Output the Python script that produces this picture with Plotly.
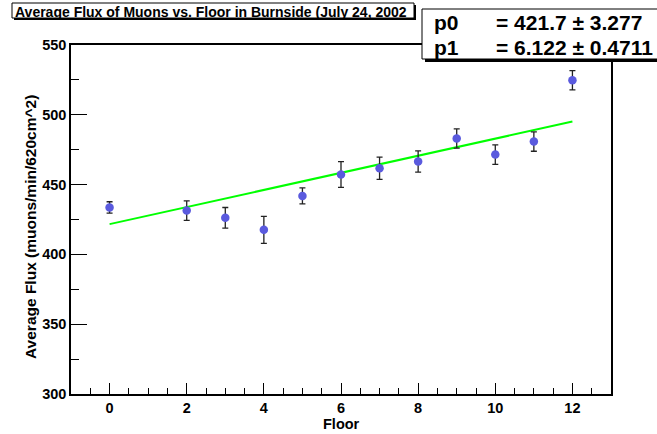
import plotly.graph_objects as go

floors = [0, 2, 3, 4, 5, 6, 7, 8, 9, 10, 11, 12]
flux = [433.6, 431.4, 426.2, 417.6, 441.9, 457.2, 461.7, 466.5, 483.0, 471.5, 480.8, 524.7]
flux_err = [4.1, 7.0, 7.4, 9.7, 5.7, 9.2, 8.0, 7.6, 6.9, 7.0, 6.9, 6.9]
p0, p0_err = 421.7, 3.277
p1, p1_err = 6.122, 0.4711
fit_x = [0, 12]
fit_y = [p0 + p1 * x for x in fit_x]

W, H = 657, 434
L, R, T, B = 71, 611, 45, 394

def px(x):
    return (x - L) / (R - L)

def py(y):
    return (B - y) / (B - T)

FONT = "Liberation Sans, Arial, Helvetica, sans-serif"

fig = go.Figure()
fig.add_trace(go.Scatter(
    x=fit_x, y=fit_y, mode="lines",
    line=dict(color="#00ff00", width=2), hoverinfo="skip", showlegend=False))
fig.add_trace(go.Scatter(
    x=floors, y=flux, mode="markers",
    marker=dict(color="#5a5ade", size=8.5),
    error_y=dict(type="data", array=flux_err, color="#222222", thickness=1.3, width=3),
    showlegend=False))

shapes = []
def box(x0, y0, x1, y1, shadow=3):
    shapes.append(dict(type="rect", xref="paper", yref="paper",
                       x0=px(x0 + shadow), x1=px(x1 + shadow), y0=py(y0 + shadow), y1=py(y1 + shadow),
                       fillcolor="black", line=dict(width=0), layer="above"))
    shapes.append(dict(type="rect", xref="paper", yref="paper",
                       x0=px(x0), x1=px(x1), y0=py(y0), y1=py(y1),
                       fillcolor="white", line=dict(color="black", width=1), layer="above"))

box(12, 3, 414, 18, shadow=2)
box(422, 9, 680, 59, shadow=3)

STAT = dict(family=FONT, size=21, color="black", weight="bold")
annotations = [
    dict(text="Average Flux of Muons vs. Floor in Burnside (July 24, 2002",
         x=px(13), y=py(11.5), xref="paper", yref="paper", xanchor="left", yanchor="middle",
         showarrow=False, font=dict(family=FONT, size=14, color="black", weight="bold")),
    dict(text="p0", x=px(432), y=py(23), xref="paper", yref="paper", xanchor="left", yanchor="middle",
         showarrow=False, font=STAT),
    dict(text=f"= {p0} ± {p0_err}", x=px(494), y=py(23), xref="paper", yref="paper",
         xanchor="left", yanchor="middle", showarrow=False, font=STAT),
    dict(text="p1", x=px(432), y=py(48), xref="paper", yref="paper", xanchor="left", yanchor="middle",
         showarrow=False, font=STAT),
    dict(text=f"= {p1} ± {p1_err}", x=px(494), y=py(48), xref="paper", yref="paper",
         xanchor="left", yanchor="middle", showarrow=False, font=STAT),
    dict(text="Average Flux (muons/min/620cm^2)", x=px(30), y=py(227), xref="paper", yref="paper",
         xanchor="center", yanchor="middle", textangle=-90, showarrow=False,
         font=dict(family=FONT, size=15.5, color="black", weight="bold")),
    dict(text="Floor", x=px(341), y=py(424), xref="paper", yref="paper",
         xanchor="center", yanchor="middle", showarrow=False,
         font=dict(family=FONT, size=14.5, color="black", weight="bold")),
]

fig.update_layout(
    width=W, height=H, autosize=False,
    margin=dict(l=L, r=W - R, t=T, b=H - B, pad=0),
    paper_bgcolor="white", plot_bgcolor="white",
    font=dict(family=FONT, color="black"),
    shapes=shapes, annotations=annotations,
    xaxis=dict(
        range=[-1, 13], tickvals=[0, 2, 4, 6, 8, 10, 12], automargin=False,
        ticks="inside", ticklen=11, tickwidth=1, tickcolor="black",
        minor=dict(ticks="inside", ticklen=6, dtick=0.5, tick0=0, tickcolor="black", tickwidth=1, showgrid=False),
        showline=True, linecolor="black", linewidth=1.5, mirror=True,
        showgrid=False, zeroline=False, ticklabelstandoff=0,
        tickfont=dict(family=FONT, size=14.5, color="black", weight="bold"),
    ),
    yaxis=dict(
        range=[300, 550], tickvals=[300, 350, 400, 450, 500, 550], automargin=False,
        ticks="inside", ticklen=16, tickwidth=1, tickcolor="black",
        minor=dict(ticks="inside", ticklen=8, dtick=25, tick0=300, tickcolor="black", tickwidth=1, showgrid=False),
        showline=True, linecolor="black", linewidth=1.5, mirror=True,
        showgrid=False, zeroline=False,
        tickfont=dict(family=FONT, size=14.5, color="black", weight="bold"),
    ),
)

fig.write_html("out.html")
